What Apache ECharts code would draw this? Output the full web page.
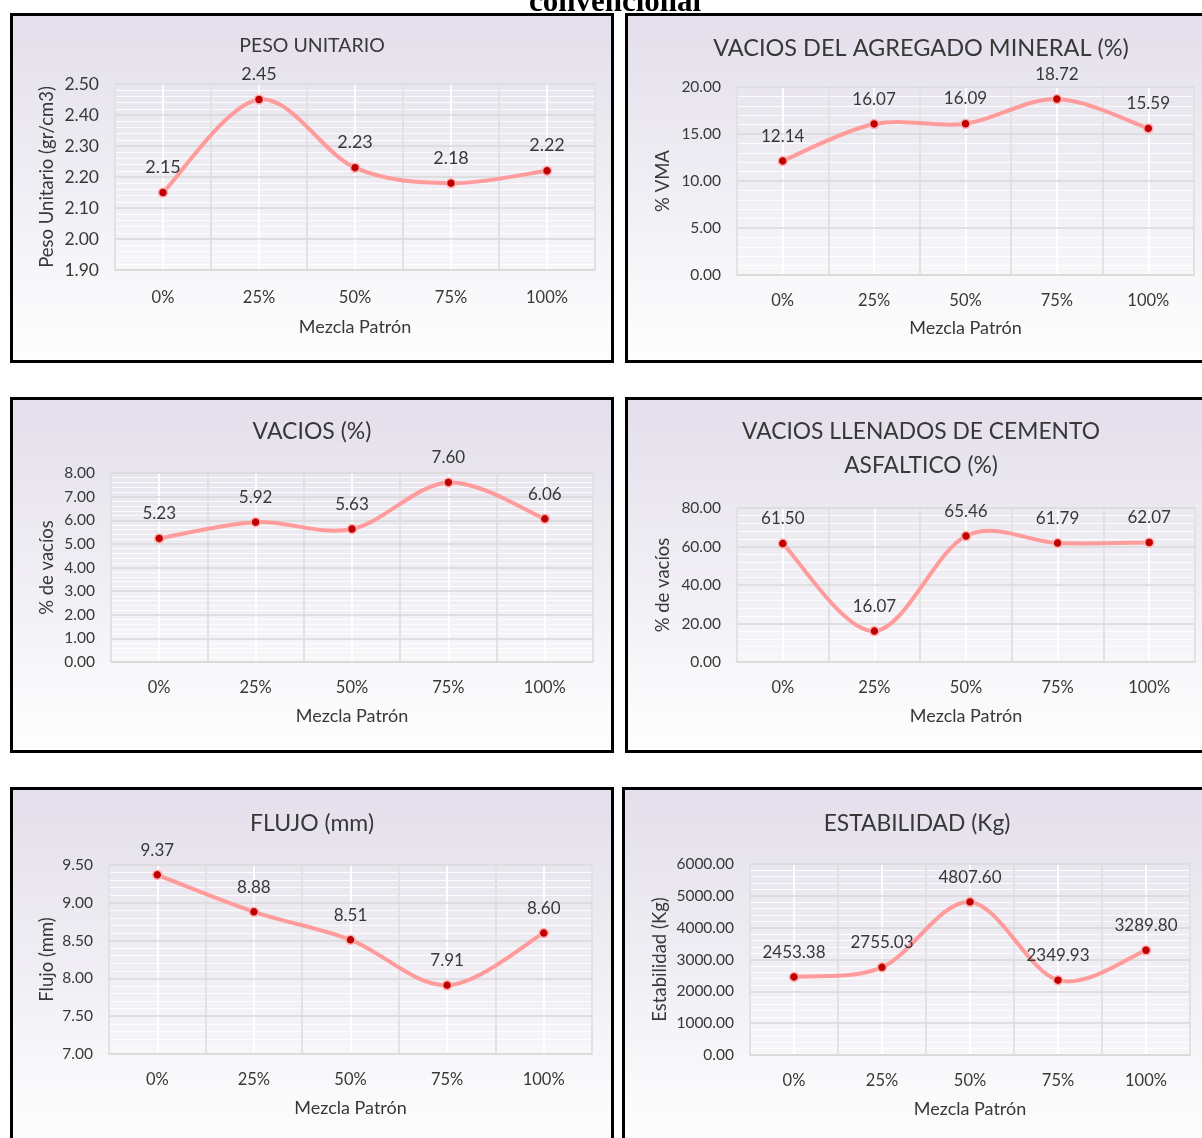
<!DOCTYPE html>
<html>
<head>
<meta charset="utf-8">
<script src="https://cdn.jsdelivr.net/npm/echarts@6/dist/echarts.min.js"></script>
<style>
  html, body { margin: 0; padding: 0; background: #ffffff; }
  #chart { width: 1202px; height: 1138px; }
</style>
</head>
<body>
<div id="chart"></div>
<script>
// Mix proportions (x axis) shared by every panel
const categories = ['0%', '25%', '50%', '75%', '100%'];

// Marshall test results per proportion
const pesoUnitario = [2.15, 2.45, 2.23, 2.18, 2.22];
const vma = [12.14, 16.07, 16.09, 18.72, 15.59];
const vacios = [5.23, 5.92, 5.63, 7.60, 6.06];
const vfa = [61.50, 16.07, 65.46, 61.79, 62.07];
const flujo = [9.37, 8.88, 8.51, 7.91, 8.60];
const estabilidad = [2453.38, 2755.03, 4807.60, 2349.93, 3289.80];

// Panel titles and axis names
const titles = ['PESO UNITARIO', 'VACIOS DEL AGREGADO MINERAL (%)', 'VACIOS (%)',
  'VACIOS LLENADOS DE CEMENTO\nASFALTICO (%)', 'FLUJO (mm)', 'ESTABILIDAD (Kg)'];
const yNames = ['Peso Unitario (gr/cm3)', '% VMA', '% de vacíos', '% de vacíos',
  'Flujo (mm)', 'Estabilidad (Kg)'];
const xName = 'Mezcla Patrón';
const pageHeading = 'convencional';

// Y scales: [min, max, interval]
const yScales = [[1.9, 2.5, 0.1], [0, 20, 5], [0, 8, 1], [0, 80, 20], [7, 9.5, 0.5], [0, 6000, 1000]];

const seriesData = [pesoUnitario, vma, vacios, vfa, flujo, estabilidad];

// Layout of each framed panel
const frames = [
  { x: 10, y: 13, w: 604, h: 350 },
  { x: 625, y: 13, w: 590, h: 350 },
  { x: 10, y: 397, w: 604, h: 356 },
  { x: 625, y: 397, w: 590, h: 356 },
  { x: 10, y: 787, w: 604, h: 360 },
  { x: 622, y: 787, w: 590, h: 360 }
];
const grids = [
  { left: 115, top: 84, width: 480, height: 186 },
  { left: 737, top: 87, width: 457, height: 188 },
  { left: 111, top: 473, width: 482, height: 189 },
  { left: 737, top: 508, width: 458, height: 154 },
  { left: 109, top: 865, width: 483, height: 189 },
  { left: 750, top: 864, width: 440, height: 191 }
];
const titlePos = [
  { x: 312, y: 46, size: 19.5 },
  { x: 921, y: 48, size: 23.5 },
  { x: 312, y: 432, size: 23 },
  { x: 921, y: 449, size: 22.8, lh: 34 },
  { x: 312, y: 824, size: 23 },
  { x: 917, y: 824, size: 22.8 }
];
const yNameX = [47, 663, 47, 663, 47, 660];
const xNameGap = [48, 44.5, 45, 45, 45, 45];
const xLabelMargin = [19, 17, 17, 17, 17, 17];
const valueLabelSize = [18, 17, 17, 17, 17, 17];

const FONT = 'Lato, "Open Sans", sans-serif';
const TEXT = '#383838';
const GRID_GRAY = '#d9d9d9';
const CURVE = '#ff9b9b';
const TENSION = 1 / 6;

// Smoothed curve through the points (cubic Bezier, Catmull-Rom tangents)
function smoothPath(pts) {
  let d = 'M' + pts[0][0] + ' ' + pts[0][1];
  for (let i = 0; i < pts.length - 1; i++) {
    const p0 = pts[Math.max(i - 1, 0)];
    const p1 = pts[i];
    const p2 = pts[i + 1];
    const p3 = pts[Math.min(i + 2, pts.length - 1)];
    const c1x = p1[0] + (p2[0] - p0[0]) * TENSION;
    const c1y = p1[1] + (p2[1] - p0[1]) * TENSION;
    const c2x = p2[0] - (p3[0] - p1[0]) * TENSION;
    const c2y = p2[1] - (p3[1] - p1[1]) * TENSION;
    d += ' C' + c1x + ' ' + c1y + ' ' + c2x + ' ' + c2y + ' ' + p2[0] + ' ' + p2[1];
  }
  return d;
}

const option = {
  animation: false,
  backgroundColor: '#ffffff',
  title: [],
  grid: [],
  xAxis: [],
  yAxis: [],
  series: [],
  graphic: []
};

// heading line above the panels
option.graphic.push({
  type: 'text', z: 0,
  style: {
    text: pageHeading, x: 615, y: 3, align: 'center', verticalAlign: 'middle',
    font: 'bold 31px "Liberation Serif", "Times New Roman", serif', fill: '#000000'
  }
});

frames.forEach((f, i) => {
  // panel background with a soft lavender-to-white fade and a black frame
  option.graphic.push({
    type: 'rect', z: -10,
    shape: { x: f.x + 1.5, y: f.y + 1.5, width: f.w - 3, height: f.h - 3 },
    style: {
      fill: {
        type: 'linear', x: 0, y: 0, x2: 0, y2: 1,
        colorStops: [
          { offset: 0, color: '#e4dfeb' },
          { offset: 0.5, color: '#f0eef4' },
          { offset: 1, color: '#fefefe' }
        ]
      },
      stroke: '#000000', lineWidth: 3
    }
  });

  const t = titlePos[i];
  const lines = titles[i].split('\n').length;
  const lh = t.lh || Math.round(t.size * 1.2);
  option.title.push({
    text: titles[i],
    left: t.x, top: t.y - lh * lines / 2,
    textAlign: 'center', padding: 0,
    textStyle: { fontFamily: FONT, fontSize: t.size, fontWeight: 'normal', color: TEXT, lineHeight: lh }
  });

  const g = grids[i];
  option.grid.push({ left: g.left, top: g.top, width: g.width, height: g.height, containLabel: false });

  // category axis: gray boundary lines, labels and axis name
  option.xAxis.push({
    type: 'category', gridIndex: i, data: categories, boundaryGap: true, z: 3,
    name: xName, nameLocation: 'middle', nameGap: xNameGap[i],
    nameTextStyle: { fontFamily: FONT, fontSize: 18, color: TEXT },
    axisLine: { show: true, lineStyle: { color: GRID_GRAY, width: 1.5 } },
    axisTick: { show: false },
    axisLabel: { fontFamily: FONT, fontSize: 16.5, color: TEXT, margin: xLabelMargin[i] },
    splitLine: { show: true, lineStyle: { color: GRID_GRAY, width: 1.5 } }
  });
  // helper axis that draws the faint light lines through the category centres
  option.xAxis.push({
    type: 'value', gridIndex: i, min: 0, max: 10, interval: 1, z: 1, show: true,
    axisLine: { show: false }, axisTick: { show: false }, axisLabel: { show: false },
    splitLine: { show: true, lineStyle: { color: 'rgba(255,255,255,0.95)', width: 2 } }
  });

  const s = yScales[i];
  option.yAxis.push({
    type: 'value', gridIndex: i, min: s[0], max: s[1], interval: s[2], z: 2,
    name: yNames[i], nameLocation: 'middle', nameGap: g.left - yNameX[i] - 10,
    nameTextStyle: { fontFamily: FONT, fontSize: 18.5, color: TEXT },
    axisLine: { show: false }, axisTick: { show: false },
    axisLabel: { fontFamily: FONT, fontSize: i === 0 ? 17.5 : 15.5, color: TEXT, margin: 16,
      formatter: v => v.toFixed(2) },
    splitLine: { show: true, lineStyle: { color: GRID_GRAY, width: 1.5 } },
    minorTick: { show: false, splitNumber: 5 },
    minorSplitLine: { show: true, lineStyle: { color: 'rgba(255,255,255,0.85)', width: 1 } }
  });

  const values = seriesData[i];
  // smoothed curve, positioned through the grid's own axes
  option.series.push({
    type: 'custom', xAxisIndex: i * 2, yAxisIndex: i, z: 4, silent: true,
    data: values.map((v, j) => [j, v]),
    encode: { x: 0, y: 1 },
    renderItem: (params, api) => {
      if (params.dataIndex !== 0) return null;
      const pts = values.map((v, j) => api.coord([j, v]));
      return {
        type: 'path',
        shape: { pathData: smoothPath(pts) },
        style: { fill: 'none', stroke: CURVE, lineWidth: 4, lineCap: 'round', lineJoin: 'round' }
      };
    }
  });
  // markers and value labels
  option.series.push({
    type: 'line', xAxisIndex: i * 2, yAxisIndex: i,
    data: values, z: 5,
    lineStyle: { width: 0, opacity: 0 },
    symbol: 'circle', symbolSize: 9,
    itemStyle: { color: '#c00000', borderColor: '#ffb0b0', borderWidth: 1.5 },
    label: {
      show: true, position: 'top', distance: 11,
      fontFamily: FONT, fontSize: valueLabelSize[i], color: TEXT,
      formatter: p => p.value.toFixed(2)
    },
    emphasis: { disabled: true }
  });
});

const chart = echarts.init(document.getElementById('chart'), null, { renderer: 'canvas' });
chart.setOption(option);
</script>
</body>
</html>
